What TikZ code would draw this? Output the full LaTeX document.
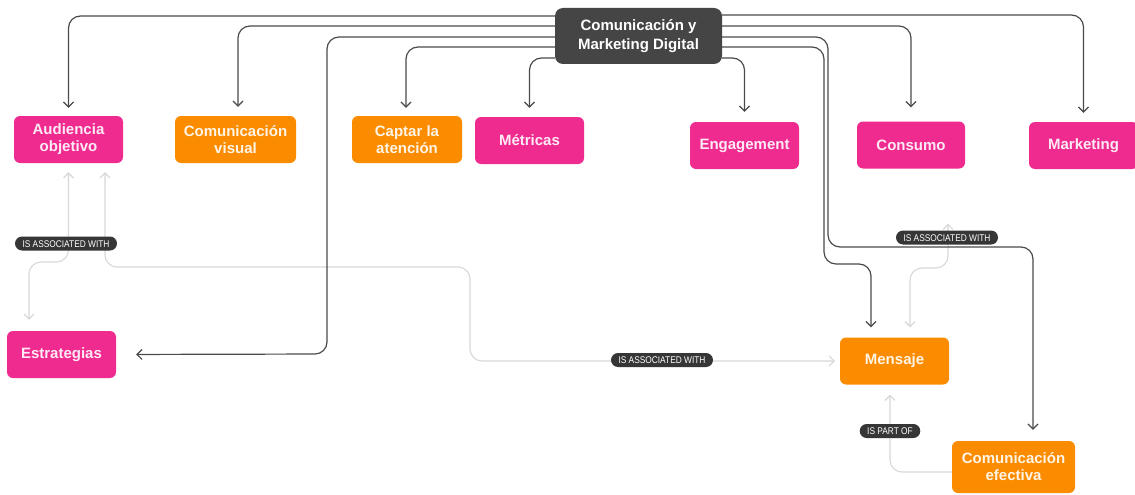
\documentclass[tikz,border=0pt]{standalone}
\usepackage{fontspec}
\setmainfont{Liberation Sans}
\newfontfamily\tagfont[FakeStretch=0.86]{Liberation Sans}
\usetikzlibrary{arrows.meta}

\definecolor{cHub}{HTML}{454545}
\definecolor{cPink}{HTML}{EF2B90}
\definecolor{cPinkText}{HTML}{FDEAF4}
\definecolor{cOrange}{HTML}{FB8C00}
\definecolor{cOrangeText}{HTML}{FFF4E6}
\definecolor{cLinkDark}{HTML}{4A4A4A}
\definecolor{cLinkLight}{HTML}{D8D8D8}
\definecolor{cTag}{HTML}{363636}

\tikzset{
  barb/.tip={Straight Barb[length=5pt,width=10pt]},
  box/.style={rectangle, rounded corners=6pt, minimum height=47pt,
    minimum width=109pt, inner sep=2pt, align=center,
    font=\bfseries\fontsize{15}{17}\selectfont},
  pinkbox/.style={box, fill=cPink, text=cPinkText},
  orangebox/.style={box, fill=cOrange, text=cOrangeText},
  hubbox/.style={box, fill=cHub, text=white, minimum width=167pt,
    minimum height=56pt, rounded corners=8pt,
    font=\bfseries\fontsize{15}{19}\selectfont},
  darklink/.style={draw=cLinkDark, line width=1.2pt, rounded corners=12pt, -barb},
  lightlink/.style={draw=cLinkLight, line width=1.1pt, rounded corners=12pt},
  tag/.style={fill=cTag, text=white, rounded corners=7pt, inner xsep=7.5pt,
    inner ysep=3.5pt, text height=7pt, text depth=0pt,
    font=\tagfont\fontsize{9.7}{10}\selectfont}
}

\begin{document}
\begin{tikzpicture}[x=1pt,y=-1pt]
\useasboundingbox (0,0) rectangle (1135,495);
\fill[white] (0,0) rectangle (1135,495);

% concept boxes
\node[hubbox] (hub) at (638.5,36) {Comunicación y\\Marketing Digital};
\node[pinkbox] (aud) at (68.5,139.5) {Audiencia\\objetivo};
\node[orangebox, minimum width=121pt] (cvis) at (235.5,139.5) {Comunicación\\visual};
\node[orangebox, minimum width=110pt] (capt) at (407,139.5) {Captar la\\atención};
\node[pinkbox] (metr) at (529.5,140.5) {Métricas};
\node[pinkbox] (eng) at (744.5,145.5) {Engagement};
\node[pinkbox, minimum width=108pt] (cons) at (911,145) {Consumo};
\node[pinkbox] (mkt) at (1083.5,145.5) {Marketing};
\node[pinkbox] (estr) at (61.5,354.5) {Estrategias};
\node[orangebox] (mens) at (894.5,361) {Mensaje};
\node[orangebox, minimum width=123pt, minimum height=52pt] (cef) at (1013.5,467) {Comunicación\\efectiva};

% relations (light)
\draw[lightlink, barb-barb, shorten <=9pt, shorten >=11pt]
  (aud.south) -- (aud.south |- 0,262) -| ([xshift=-32.5pt]estr.north);
\draw[lightlink, barb-barb, shorten <=9pt, shorten >=5pt]
  (aud.south -| 105,0) -- (105,267) -- (470,267) -- (470,361) -- (mens.west);
\draw[lightlink, barb-barb, shorten <=10pt, shorten >=55pt]
  (mens.north -| 910,0) -- (910,268) -- (948,268) -- (cons.south -| 948,0);
\draw[lightlink, -barb, shorten >=10pt]
  (cef.west |- 0,472) -| ([xshift=-4.5pt]mens.south);

% hierarchy (dark)
\draw[darklink, shorten >=8pt] (hub.west |- 0,16) -| (aud.north);
\draw[darklink, shorten >=9pt] (hub.west |- 0,26) -| ([xshift=2.5pt]cvis.north);
\draw[darklink, shorten >=20pt] (hub.west |- 0,37) -| (327,354) -- (estr.east);
\draw[darklink, shorten >=8pt] (hub.west |- 0,47) -| ([xshift=-1pt]capt.north);
\draw[darklink, shorten >=9pt] (hub.west |- 0,58) -| (metr.north);
\draw[darklink, shorten >=10pt] (hub.east |- 0,58) -| (eng.north);
\draw[darklink, shorten >=14pt] (hub.east |- 0,26) -| (cons.north);
\draw[darklink, shorten >=9pt] (hub.east |- 0,15) -| (mkt.north);
\draw[darklink, shorten >=11pt] (hub.east |- 0,37) -| (828,247) -| ([xshift=19.5pt]cef.north);
\draw[darklink, shorten >=10pt] (hub.east |- 0,47) -| (824,264) -| ([xshift=-23.5pt]mens.north);

% relation labels
\node[tag] (t1) at (66,243.5) {IS ASSOCIATED WITH};
\node[tag] (t2) at (662,360) {IS ASSOCIATED WITH};
\node[tag] (t3) at (947,237.5) {IS ASSOCIATED WITH};
\node[tag] (t4) at (890,431) {IS PART OF};
\end{tikzpicture}
\end{document}
